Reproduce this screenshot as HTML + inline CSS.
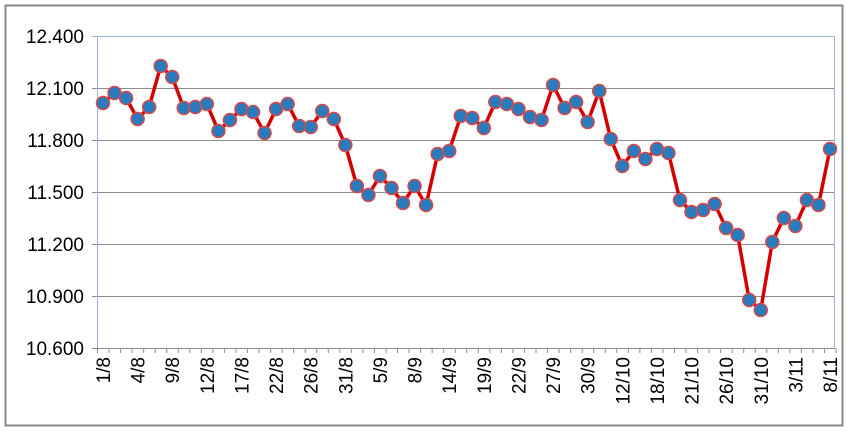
<!DOCTYPE html>
<html><head><style>html,body{margin:0;padding:0;background:#fff}</style></head><body>
<svg width="848" height="431" xmlns="http://www.w3.org/2000/svg" font-family="Liberation Sans, sans-serif">
<rect x="5.5" y="5.5" width="837" height="420" fill="#fff" stroke="#888" stroke-width="2"/>
<g stroke="#8c8c8c" stroke-width="1">
<line x1="92" y1="36.5" x2="835" y2="36.5" stroke="#9fb4dd"/>
<line x1="92" y1="88.5" x2="835" y2="88.5"/>
<line x1="92" y1="140.5" x2="835" y2="140.5"/>
<line x1="92" y1="192.5" x2="835" y2="192.5"/>
<line x1="92" y1="244.5" x2="835" y2="244.5"/>
<line x1="92" y1="296.5" x2="835" y2="296.5"/>
<line x1="92" y1="348.5" x2="835" y2="348.5"/>
</g>
<line x1="97.5" y1="36" x2="97.5" y2="348" stroke="#9fb4dd"/>
<line x1="834.5" y1="36" x2="834.5" y2="348" stroke="#9fb4dd"/>
<g font-size="19" fill="#000" text-anchor="end">
<text x="84" y="43">12.400</text><text x="84" y="95">12.100</text><text x="84" y="147">11.800</text>
<text x="84" y="199">11.500</text><text x="84" y="251">11.200</text><text x="84" y="303">10.900</text><text x="84" y="355">10.600</text>
</g>
<g id="ticks" stroke="#8c8c8c"></g>
<g id="xl" font-size="19" fill="#000"></g>
<polyline id="ln" fill="none" stroke="#d40000" stroke-width="3.5" stroke-linejoin="round"/>
<g id="pts"></g>
</svg>
<script>
var ys=[103,93,98,119,107,66,77,108,107,104,131,120,109,112,133,109,104,126,127,111,119,145,186,195,176,188,203,186,205,154,151,116,118,128,102,104,109,117,120,85,108,102,122,91,139,166,151,159,149,153,200,212,210,204,228,235,300,310,242,218,226,200,205,149];
var labs=["1/8","4/8","9/8","12/8","17/8","22/8","26/8","31/8","5/9","8/9","14/9","19/9","22/9","27/9","30/9","12/10","18/10","21/10","26/10","31/10","3/11","8/11"];
var ns="http://www.w3.org/2000/svg",dx=(830-103)/63,p=[],g=document.getElementById("pts");
for(var i=0;i<ys.length;i++){var x=103+i*dx;p.push(x+","+ys[i]);
var c=document.createElementNS(ns,"circle");c.setAttribute("cx",x);c.setAttribute("cy",ys[i]);c.setAttribute("r",6.5);c.setAttribute("fill","#2a7bbd");c.setAttribute("stroke","#d84848");c.setAttribute("stroke-width","1.5");g.appendChild(c);}
document.getElementById("ln").setAttribute("points",p.join(" "));
var t=document.getElementById("ticks");
for(var i=0;i<=64;i++){var x=97.5+i*dx;var l=document.createElementNS(ns,"line");l.setAttribute("x1",x);l.setAttribute("x2",x);l.setAttribute("y1",348);l.setAttribute("y2",353);t.appendChild(l);}
var xl=document.getElementById("xl");
for(var k=0;k<labs.length;k++){var x=103+k*3*dx+7;var e=document.createElementNS(ns,"text");e.setAttribute("text-anchor","end");e.setAttribute("transform","translate("+x+",357) rotate(-90)");e.textContent=labs[k];xl.appendChild(e);}
</script>
</body></html>
